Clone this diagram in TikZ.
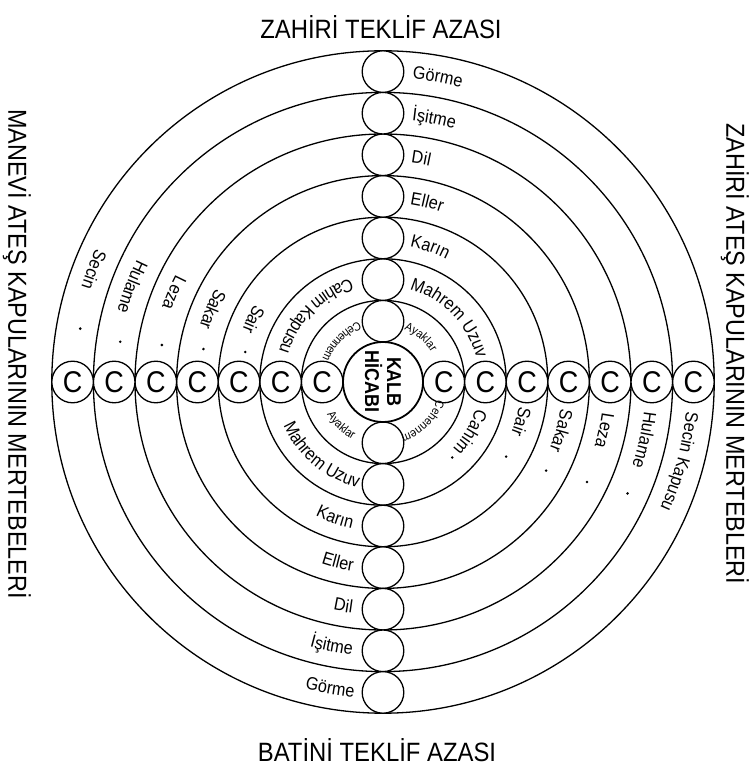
\documentclass[tikz,border=0pt]{standalone}
\usepackage{fontspec}
\setmainfont{Liberation Sans}[FakeStretch=0.9]
\usetikzlibrary{decorations.text}

\begin{document}
\begin{tikzpicture}[
    x=1pt, y=1pt,
    ring/.style={draw, line width=1.3pt},
    gapball/.style={circle, draw, line width=1.3pt, fill=white, minimum size=41.6pt, inner sep=0pt, font=\fontsize{30}{30}\selectfont},
    kalb/.style={circle, draw, line width=1.8pt, fill=white, minimum size=80pt, inner sep=0pt, align=center, rotate=-90, font=\fontsize{20}{22}\selectfont\bfseries},
    title/.style={font=\fontsize{26.5}{28}\selectfont},
    sidetitle/.style={rotate=-90, font=\fontsize{26}{28}\selectfont},
    arcword/.style={decorate, decoration={text along path, text={|\fontsize{18}{18}\selectfont|#1}, text align=center}},
    smallarcword/.style={decorate, decoration={text along path, text={|\fontsize{12}{12}\selectfont|#1}, text align=center}}
]
\path[use as bounding box, fill=white] (-383,-385) rectangle (365,382);

% rings
\foreach \k [evaluate=\k as \r using 40+41.6*\k] in {1,...,7}
    \draw[ring] (0,0) circle[radius=\r];

% circles on the two axes
\foreach \j [evaluate=\j as \d using 60.8+41.6*\j] in {0,...,6} {
    \node[gapball] (up\j) at (90:\d) {};
    \node[gapball] (down\j) at (270:\d) {};
    \node[gapball] (west\j) at (180:\d) {C};
    \node[gapball] (east\j) at (0:\d) {C};
}
\node[kalb] (kalb) at (0,0) {KALB\\HİCABI};

% titles
\node[title] (zahiri) at (-2,355) {ZAHİRİ TEKLİF AZASI};
\node[title] (batini) at (-6,-368) {BATİNİ TEKLİF AZASI};
\node[sidetitle] (manevi) at (-366,28) {MANEVİ ATEŞ KAPULARININ MERTEBELERİ};
\node[sidetitle] (zahiriates) at (352,28) {ZAHİRİ ATEŞ KAPULARININ MERTEBLERİ};

% upper right
\path[arcword={Görme}] (124.8:304.4) arc[start angle=124.8, end angle=34.8, radius=304.4];
\path[arcword={İşitme}] (124:262.8) arc[start angle=124, end angle=34, radius=262.8];
\path[arcword={Dil}] (125.3:221.2) arc[start angle=125.3, end angle=35.3, radius=221.2];
\path[arcword={Eller}] (121.2:179.6) arc[start angle=121.2, end angle=31.2, radius=179.6];
\path[arcword={Karın}] (115.7:138) arc[start angle=115.7, end angle=25.7, radius=138];
\path[arcword={Mahrem Uzuv}] (89:96.4) arc[start angle=89, end angle=-1, radius=96.4];
\path[smallarcword={Ayaklar}] (95:56.8) arc[start angle=95, end angle=5, radius=56.8];

% lower left
\path[arcword={Görme}] (215.2:316.4) arc[start angle=215.2, end angle=305.2, radius=316.4];
\path[arcword={İşitme}] (214:274.8) arc[start angle=214, end angle=304, radius=274.8];
\path[arcword={Dil}] (215:233.2) arc[start angle=215, end angle=305, radius=233.2];
\path[arcword={Eller}] (211:191.6) arc[start angle=211, end angle=301, radius=191.6];
\path[arcword={Karın}] (205.6:150) arc[start angle=205.6, end angle=295.6, radius=150];
\path[arcword={Mahrem Uzuv}] (185:108.4) arc[start angle=185, end angle=275, radius=108.4];
\path[smallarcword={Ayaklar}] (181:64.8) arc[start angle=181, end angle=271, radius=64.8];

% upper left
\path[arcword={Secin}] (113.8:316.4) arc[start angle=113.8, end angle=203.8, radius=316.4];
\path[arcword={Hulame}] (114.3:274.8) arc[start angle=114.3, end angle=204.3, radius=274.8];
\path[arcword={Leza}] (112:233.2) arc[start angle=112, end angle=202, radius=233.2];
\path[arcword={Sakar}] (112:191.6) arc[start angle=112, end angle=202, radius=191.6];
\path[arcword={Sair}] (109.3:150) arc[start angle=109.3, end angle=199.3, radius=150];
\path[arcword={Cahim Kapusu}] (90.5:108.4) arc[start angle=90.5, end angle=180.5, radius=108.4];
\path[smallarcword={Cehennem}] (90.5:64.8) arc[start angle=90.5, end angle=180.5, radius=64.8];
\fill (170:307.4) circle[radius=1.4];
\fill (171.3:265.8) circle[radius=1.4];
\fill (170.5:224.2) circle[radius=1.4];
\fill (169.6:182.6) circle[radius=1.4];
\fill (167.7:141) circle[radius=1.4];

% right
\path[arcword={Secin Kapusu}] (30:304.4) arc[start angle=30, end angle=-60, radius=304.4];
\path[arcword={Hulame}] (32.5:262.8) arc[start angle=32.5, end angle=-57.5, radius=262.8];
\path[arcword={Leza}] (32.6:221.2) arc[start angle=32.6, end angle=-57.4, radius=221.2];
\path[arcword={Sakar}] (29.7:179.6) arc[start angle=29.7, end angle=-60.3, radius=179.6];
\path[arcword={Sair}] (29:138) arc[start angle=29, end angle=-61, radius=138];
\path[arcword={Cahim}] (15:96.4) arc[start angle=15, end angle=-75, radius=96.4];
\path[smallarcword={Cehennem}] (0:56.8) arc[start angle=0, end angle=-90, radius=56.8];
\fill (-47.5:102.4) circle[radius=1.4];
\fill (-31.2:144) circle[radius=1.4];
\fill (-28.5:185.6) circle[radius=1.4];
\fill (-26.1:227.2) circle[radius=1.4];
\fill (-24.5:268.8) circle[radius=1.4];
\end{tikzpicture}
\end{document}
